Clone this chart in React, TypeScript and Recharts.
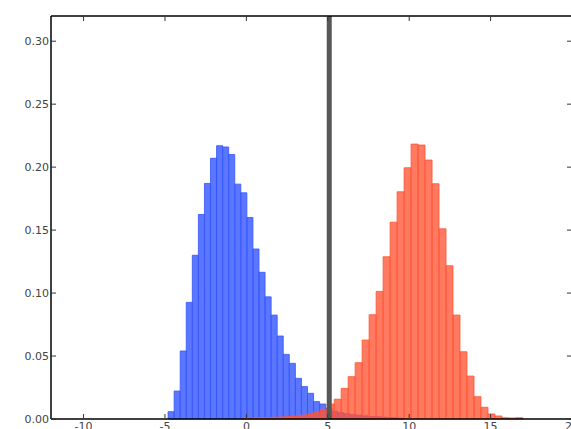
import { ComposedChart, XAxis, YAxis, ReferenceArea, ReferenceLine, Scatter } from 'recharts';

// histogram bins: left edge of first bin + bin width, then bar heights (normalised)
const blueStart = -4.81;
const blueWidth = 0.3724;
const blueHeights = [
  0.0058, 0.0222, 0.054, 0.0926, 0.13, 0.1624, 0.187, 0.207, 0.217, 0.216,
  0.21, 0.1865, 0.1796, 0.16, 0.135, 0.1165, 0.097, 0.0825, 0.0659, 0.0513,
  0.0442, 0.0323, 0.0257, 0.0204, 0.0138, 0.0119, 0.0085, 0.0062, 0.005, 0.0042,
  0.0035, 0.003, 0.0025, 0.002, 0.0018, 0.0015, 0.0012, 0.001, 0.0006,
];

const redStart = -0.19;
const redWidth = 0.4294;
const redHeights = [
  0.0007, 0.0008, 0.001, 0.0012, 0.0014, 0.0016, 0.0019, 0.0024, 0.003, 0.0036,
  0.0055, 0.0078, 0.0119, 0.0157, 0.0243, 0.0336, 0.0447, 0.0627, 0.0828, 0.1013,
  0.1288, 0.1563, 0.1804, 0.1995, 0.2183, 0.2175, 0.2056, 0.1868, 0.151, 0.1217,
  0.0825, 0.0534, 0.0341, 0.0177, 0.0093, 0.004, 0.0024, 0.001, 0.0008, 0.001,
];

const cutoff = 5.09;

const xTicks = [-10, -5, 0, 5, 10, 15, 20];
const yTicks = [0, 0.05, 0.1, 0.15, 0.2, 0.25, 0.3];

const toBins = (start: number, width: number, heights: number[]) =>
  heights.map((h, i) => ({ x1: start + i * width, x2: start + (i + 1) * width, mid: start + (i + 0.5) * width, h }));

const blueBins = toBins(blueStart, blueWidth, blueHeights);
const redBins = toBins(redStart, redWidth, redHeights);
const allBins = [...blueBins, ...redBins];

const tickFont = { fontFamily: 'DejaVu Sans', fontSize: 11, fill: '#444' };
const spine = { stroke: '#000', strokeWidth: 1.5 };
const tickLn = { stroke: '#333', strokeWidth: 1 };
const noLabel = () => <g />;

export default function App() {
  return (
    <div style={{ position: 'absolute', left: 0, top: 0, width: 571, height: 429, overflow: 'hidden', background: '#fff' }}>
      <ComposedChart width={573} height={429} data={allBins} margin={{ top: 15, right: 0, bottom: 0, left: 0 }}>
        <XAxis
          xAxisId="x"
          dataKey="mid"
          type="number"
          domain={[-12, 20]}
          ticks={xTicks}
          interval={0}
          allowDataOverflow
          height={10}
          tick={tickFont}
          tickSize={-5}
          tickMargin={8}
          axisLine={spine}
          tickLine={tickLn}
        />
        <XAxis
          xAxisId="top"
          dataKey="mid"
          orientation="top"
          type="number"
          domain={[-12, 20]}
          ticks={xTicks}
          interval={0}
          allowDataOverflow
          height={1}
          tick={noLabel}
          tickSize={-5}
          axisLine={spine}
          tickLine={tickLn}
        />
        <YAxis
          yAxisId="y"
          type="number"
          domain={[0, 0.32]}
          ticks={yTicks}
          interval={0}
          allowDataOverflow
          width={51}
          tick={tickFont}
          tickFormatter={(v: number) => v.toFixed(2)}
          tickSize={-5}
          tickMargin={7}
          axisLine={spine}
          tickLine={tickLn}
        />
        <YAxis
          yAxisId="right"
          orientation="right"
          type="number"
          domain={[0, 0.32]}
          ticks={yTicks}
          interval={0}
          allowDataOverflow
          width={1}
          tick={noLabel}
          tickSize={-5}
          axisLine={spine}
          tickLine={tickLn}
        />
        <Scatter xAxisId="x" yAxisId="y" dataKey="h" shape={() => <g />} isAnimationActive={false} />
        <Scatter xAxisId="top" yAxisId="right" dataKey="h" shape={() => <g />} isAnimationActive={false} />
        {blueBins.map((b, i) => (
          <ReferenceArea
            key={'b' + i}
            xAxisId="x"
            yAxisId="y"
            x1={b.x1}
            x2={b.x2}
            y1={0}
            y2={b.h}
            fill="#3355ff"
            fillOpacity={0.8}
            stroke="#3355ff"
            strokeOpacity={0.8}
            strokeWidth={1}
          />
        ))}
        {redBins.map((b, i) => (
          <ReferenceArea
            key={'r' + i}
            xAxisId="x"
            yAxisId="y"
            x1={b.x1}
            x2={b.x2}
            y1={0}
            y2={b.h}
            fill="#ff5533"
            fillOpacity={0.78}
            stroke="#ff5533"
            strokeOpacity={0.8}
            strokeWidth={1}
          />
        ))}
        <ReferenceLine xAxisId="x" yAxisId="y" x={cutoff} stroke="#575757" strokeWidth={5} />
      </ComposedChart>
    </div>
  );
}
